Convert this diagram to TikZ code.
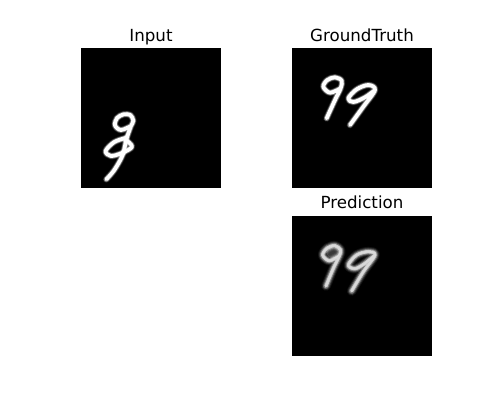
\documentclass[tikz,border=0pt]{standalone}
\usepackage{fontspec}
\setmainfont{DejaVu Sans}
\tikzset{
  x=1pt,y=-1pt,
  panel/.style={fill=black,draw=none},
  paneltitle/.style={anchor=base,inner sep=0pt,font=\fontsize{16.67}{20}\selectfont,text=black},
  zoomed/.style={x=0.3333pt,y=-0.3333pt,line cap=round,line join=round},
  halo/.style={draw=white,opacity=0.12,line width=6.8pt},
  mid/.style={draw=white,opacity=0.40,line width=5.4pt},
  core/.style={draw=white,line width=3.8pt},
  softhaloA/.style={draw=white,opacity=0.08,line width=9.5pt},
  softhaloB/.style={draw=white,opacity=0.16,line width=7.5pt},
  softmid/.style={draw=white,opacity=0.32,line width=5.5pt},
  softcore/.style={draw=white,opacity=0.62,line width=3.4pt},
  softpeak/.style={draw=white,opacity=0.3,line width=1.8pt},
  blotch/.style={fill=white,opacity=0.22},
}
\newcommand{\sharpstroke}[1]{%
  \draw[halo] plot[smooth,tension=0.55] coordinates {#1};
  \draw[mid] plot[smooth,tension=0.55] coordinates {#1};
  \draw[core] plot[smooth,tension=0.55] coordinates {#1};}
\newcommand{\softstroke}[1]{%
  \draw[softhaloA] plot[smooth,tension=0.55] coordinates {#1};
  \draw[softhaloB] plot[smooth,tension=0.55] coordinates {#1};
  \draw[softmid] plot[smooth,tension=0.55] coordinates {#1};
  \draw[softcore] plot[smooth,tension=0.55] coordinates {#1};
  \draw[softpeak] plot[smooth,tension=0.55] coordinates {#1};}
\begin{document}
\begin{tikzpicture}
\useasboundingbox (0,0) rectangle (500,400);
\fill[white] (0,0) rectangle (500,400);
\fill[panel] (81,48) rectangle (221,188);
\fill[panel] (292,48) rectangle (432,188);
\fill[panel] (292,216) rectangle (432,356);
\node[paneltitle] (tinput) at (151,41) {Input};
\node[paneltitle] (tgt) at (362,41) {GroundTruth};
\node[paneltitle] (tpred) at (362,208) {Prediction};
\begin{scope}[shift={(81,90)},zoomed]
\sharpstroke{(150,108) (120,120) (102,106) (108,84) (128,73) (148,75) (157,92) (150,108) (135,150)}
\sharpstroke{(135,150) (125,195) (100,240) (76,268)}
\sharpstroke{(137,143) (100,156) (74,183) (90,198) (125,188) (153,170) (135,150)}
\end{scope}
\begin{scope}[shift={(300,60)},zoomed]
\sharpstroke{(122,85) (90,98) (70,80) (82,60) (105,52) (125,62) (122,85) (105,120) (80,175)}
\sharpstroke{(225,90) (195,112) (160,126) (145,115) (170,88) (205,75) (225,90) (190,140) (150,195)}
\end{scope}
\begin{scope}[shift={(300,230)},zoomed]
\fill[blotch] (100,68) ellipse[x radius=20,y radius=16];
\softstroke{(118,78) (88,92) (68,75) (82,54) (105,47) (122,60) (118,78) (100,115) (78,168)}
\softstroke{(225,75) (195,100) (165,116) (145,105) (170,75) (205,65) (225,75) (190,125) (155,183)}
\end{scope}
\end{tikzpicture}
\end{document}
